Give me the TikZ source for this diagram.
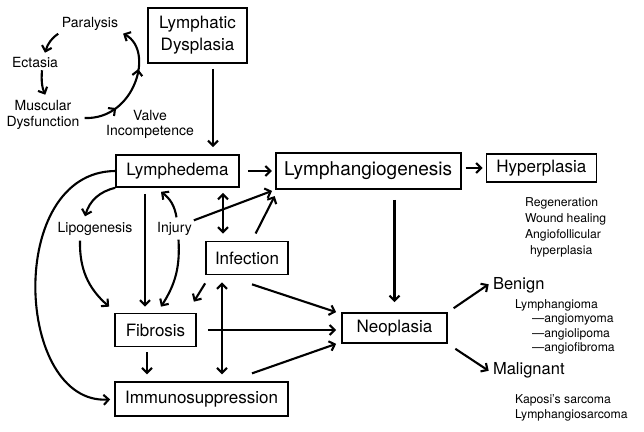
\documentclass[tikz,border=0pt]{standalone}
\usepackage{fontspec}
\setmainfont{TeX Gyre Heros}
\usetikzlibrary{arrows.meta,positioning,decorations.markings}

\begin{document}
\begin{tikzpicture}[x=1pt, y=-1pt,
        box/.style={draw, line width=1.7pt, inner sep=0pt, align=center, font=\fontsize{17}{22}\selectfont},
        lbl/.style={inner sep=1pt, align=center, font=\fontsize{14}{15}\selectfont},
        note/.style={inner sep=0pt, anchor=north west, align=left, font=\fontsize{12.2}{16}\selectfont},
        head/.style={inner sep=0pt, anchor=west, font=\fontsize{16.5}{18}\selectfont},
        midarrows/.style={postaction={decorate, decoration={markings,
            mark=at position 0.28 with {\arrow{>}}, mark=at position 0.66 with {\arrow{>}}}}},
        line width=2.1pt,
        >={Straight Barb[length=5pt,width=10pt]}]

        \useasboundingbox (0,0) rectangle (644,431);

        % Boxes
        \node[box, minimum width=99pt, minimum height=55pt] (dysplasia) at (197.5,35.5) {Lymphatic\\Dysplasia};
        \node[box, minimum width=123pt, minimum height=32pt] (lymphedema) at (177.5,171) {Lymphedema};
        \node[box, minimum width=185pt, minimum height=36pt, font=\fontsize{19}{22}\selectfont, right=35pt of lymphedema] (lymphangio) {Lymphangiogenesis};
        \node[box, minimum width=110pt, minimum height=28pt, right=24pt of lymphangio, yshift=3pt] (hyperplasia) {Hyperplasia};
        \node[box, minimum width=82pt, minimum height=33pt] (infection) at (247,258) {Infection};
        \node[box, minimum width=81pt, minimum height=33pt] (fibrosis) at (155.5,330) {Fibrosis};
        \node[box, minimum width=173pt, minimum height=34pt, below right=34pt and 0pt of fibrosis.south west] (immuno) {Immunosuppression};
        \node[box, minimum width=105pt, minimum height=30pt] (neoplasia) at (394.5,328) {Neoplasia};

        % Labels
        \node[lbl] (paralysis) at (90,24) {Paralysis};
        \node[lbl] (ectasia) at (35,63) {Ectasia};
        \node[lbl, font=\fontsize{14}{16}\selectfont] (muscular) at (43,115) {Muscular\\Dysfunction};
        \node[lbl] (valve) at (150,124) {Valve\\Incompetence};
        \node[lbl] (lipogenesis) at (95,229) {Lipogenesis};
        \node[lbl] (injury) at (174.5,229) {Injury};

        \node[note] (hyperlist) at (524,197) {Regeneration\\Wound healing\\Angiofollicular\\\hspace*{5pt}hyperplasia};
        \node[head] (benign) at (492,285) {Benign};
        \node[note, font=\fontsize{12.2}{14.3}\selectfont] (benignlist) at (514,298.5) {Lymphangioma\\\hspace*{17pt}—angiomyoma\\\hspace*{17pt}—angiolipoma\\\hspace*{17pt}—angiofibroma};
        \node[head] (malignant) at (492,370) {Malignant};
        \node[note, font=\fontsize{12.2}{15}\selectfont] (kaposilist) at (514,393.5) {Kaposi's sarcoma\\Lymphangiosarcoma};

        % Cycle
        \draw[->, shorten <=2pt] (paralysis.south west) to[bend right=20] ([xshift=10pt,yshift=3pt]ectasia.north);
        \draw[->, shorten >=4pt] ([xshift=7pt]ectasia.south) to[bend right=15] ([xshift=4pt]muscular.north);
        \draw[->, midarrows] ([xshift=3pt,yshift=-3pt]muscular.east) .. controls (135,120) and (155,50) .. ([xshift=3pt,yshift=-1pt]paralysis.south east);

        % Edges
        \coordinate (dysout) at ([xshift=15.5pt]dysplasia.south);
        \draw[->, shorten <=5pt, shorten >=7pt] (dysout) -- (dysout |- lymphedema.north);
        \draw[->, shorten <=8pt, shorten >=3pt] (lymphedema.east) -- (lymphedema.east -| lymphangio.west);
        \draw[->, shorten <=4pt, shorten >=3pt] (hyperplasia.west -| lymphangio.east) -- (hyperplasia.west);
        \draw[->, shorten <=10pt, shorten >=10pt] (lymphangio.south -| neoplasia.north) -- (neoplasia.north);
        \draw[->, shorten <=7pt, shorten >=4pt] (neoplasia.north east) -- ([yshift=3pt]benign.west);
        \draw[->, shorten <=9pt, shorten >=4pt] (neoplasia.south east) -- ([yshift=-3pt]malignant.west);

        \coordinate (infup) at ([xshift=-24pt]infection.north);
        \draw[<->, shorten <=5pt, shorten >=7pt] (infup |- lymphedema.south) -- (infup);
        \draw[->, shorten >=3pt] (injury.north east) -- (lymphangio.south west);
        \draw[->, shorten <=8pt, shorten >=7pt] ([xshift=5pt]infection.north) -- ([xshift=3pt]lymphangio.south west);
        \draw[->] ([xshift=2pt,yshift=3pt]injury.north) to[bend right=22] ([xshift=-16.5pt,yshift=-4pt]lymphedema.south);
        \draw[->] ([xshift=4pt,yshift=-2pt]injury.south) to[bend left=18] ([xshift=5.5pt,yshift=6pt]fibrosis.north);
        \coordinate (fibin) at ([xshift=-10.5pt]fibrosis.north);
        \draw[->, shorten <=6pt, shorten >=6pt] (fibin |- lymphedema.south) -- (fibin);
        \draw[->] (lymphedema.south west) to[bend right=30] ([xshift=-10pt,yshift=4pt]lipogenesis.north);
        \draw[->] ([xshift=-15pt,yshift=-3pt]lipogenesis.south) to[bend right=25] ([xshift=-5pt,yshift=6pt]fibrosis.north west);
        \draw[->, shorten >=4pt] (lymphedema.west) .. controls (5,172) and (15,405) .. (immuno.west);

        \draw[->] ([yshift=-8pt]infection.south west) -- ([xshift=-3pt,yshift=11pt]fibrosis.north east);
        \coordinate (infdn) at ([xshift=-25pt]infection.south);
        \draw[<->, shorten <=7pt, shorten >=7pt] (infdn) -- (infdn |- immuno.north);
        \draw[->] ([xshift=5pt,yshift=-9pt]infection.south) -- ([xshift=-5pt]neoplasia.north west);
        \draw[->, shorten <=11pt, shorten >=5pt] (fibrosis.east) -- (fibrosis.east -| neoplasia.west);
        \draw[->] ([xshift=50.5pt,yshift=8pt]immuno.north) -- ([xshift=-5pt]neoplasia.south west);
        \coordinate (fibout) at ([xshift=-8.5pt]fibrosis.south);
        \draw[->, shorten <=5pt, shorten >=7pt] (fibout) -- (fibout |- immuno.north);

    \end{tikzpicture}
\end{document}
